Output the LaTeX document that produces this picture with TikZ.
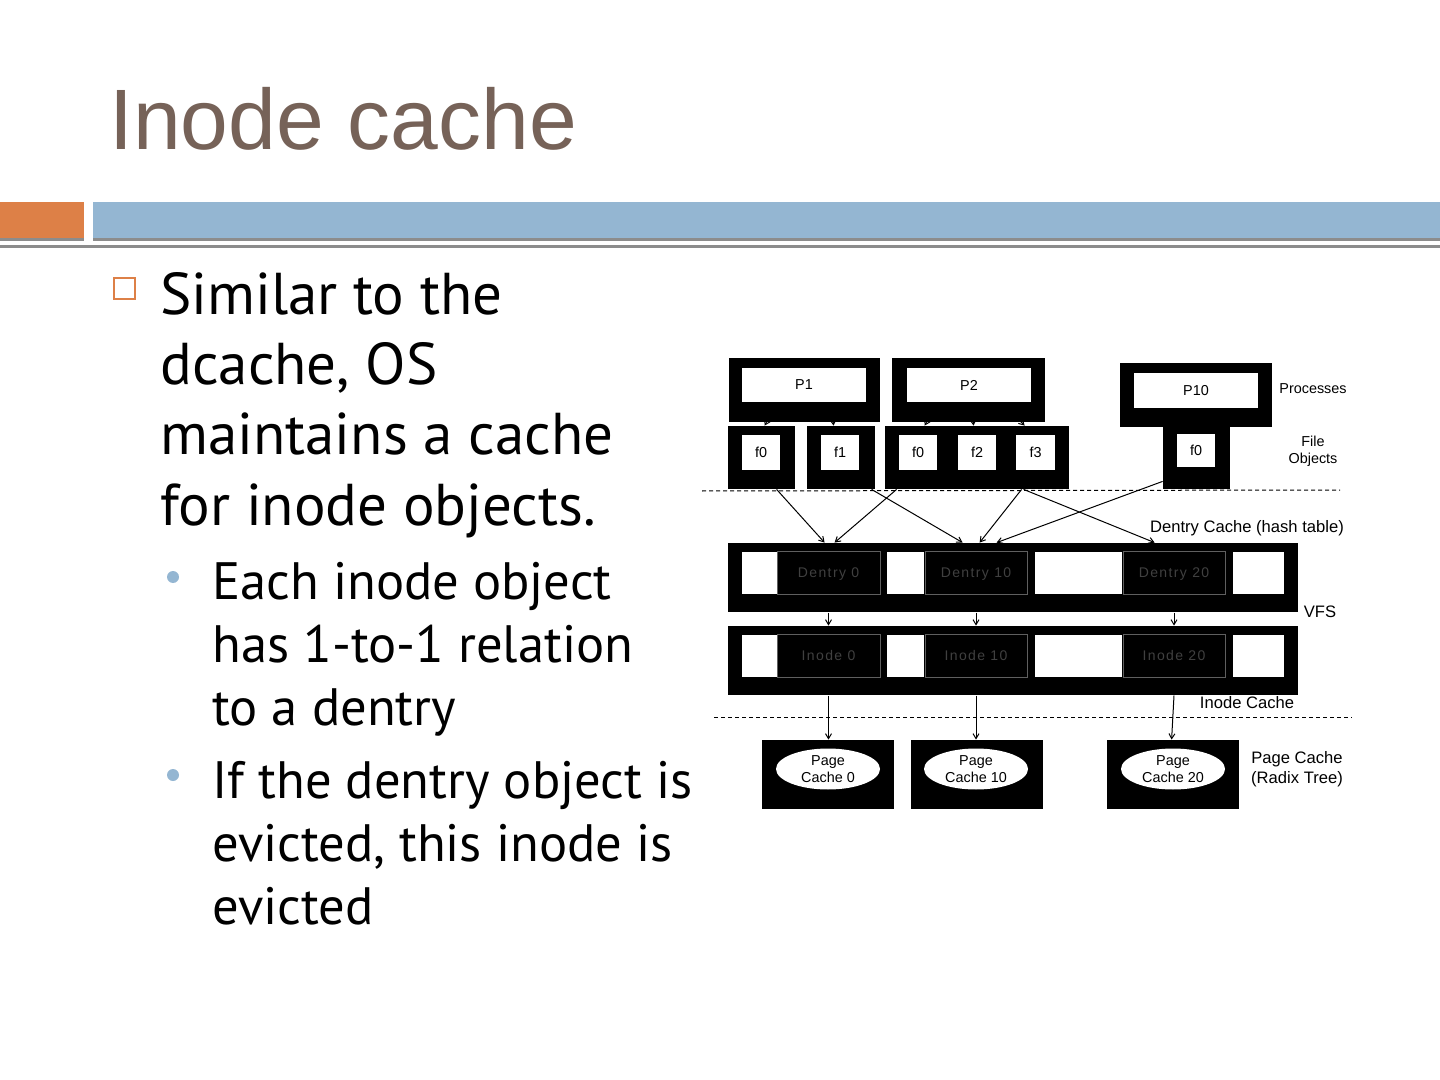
\documentclass[tikz,border=0pt]{standalone}
\usepackage{fontspec}
\setmainfont{Liberation Sans}
\newfontfamily\bodyfont{PT Sans}
\newfontfamily\dfont{Liberation Sans}[LetterSpace=10]
\usetikzlibrary{calc,arrows.meta,shapes.geometric}
\definecolor{titlebrown}{RGB}{118,98,88}
\definecolor{hdrorange}{RGB}{221,128,71}
\definecolor{hdrblue}{RGB}{148,182,210}
\definecolor{hdrgray}{RGB}{140,140,140}
\definecolor{dtext}{RGB}{64,64,64}
\definecolor{dborder}{RGB}{95,95,95}
\newcommand\rectnode[7]{\node[#6, minimum width={(#4-#2)*0.5pt}, minimum height={(#5-#3)*0.5pt}] (#1) at ({(#2+#4)/2},{(#3+#5)/2}) {#7};}
\tikzset{
  blk/.style={fill=black, draw=none, inner sep=0pt},
  wht/.style={fill=white, draw=none, inner sep=0pt, font=\fontsize{7.2}{8.6}\selectfont},
  cell/.style={fill=black, draw=dborder, line width=0.5pt, inner sep=0pt, text depth=0pt, text=dtext, font=\dfont\fontsize{7}{8}\selectfont},
  lbl/.style={font=\fontsize{7.2}{8.6}\selectfont, align=center, inner sep=0pt},
  biglbl/.style={font=\fontsize{8.3}{10}\selectfont, align=center, inner sep=0pt},
  conn/.style={line width=0.5pt, -{Straight Barb[length=2.5pt,width=3pt]}},
  sepline/.style={dash pattern=on 2pt off 1.5pt, line width=0.5pt},
  body/.style={font=\bodyfont\fontsize{29.5}{35}\selectfont, inner sep=0pt, anchor=base west},
  subbody/.style={font=\bodyfont\fontsize{26.3}{31}\selectfont, inner sep=0pt, anchor=base west},
  ovl/.style={ellipse, fill=white, draw=none, inner sep=0pt, align=center, font=\fontsize{7.2}{8.4}\selectfont}
}
\begin{document}
\begin{tikzpicture}[x=0.5pt,y=-0.5pt]
\useasboundingbox (0,0) rectangle (1440,1080);
% header
\fill[hdrorange] (0,202) rectangle (84,238);
\fill[hdrgray] (0,238) rectangle (84,241);
\fill[hdrblue] (93,202) rectangle (1440,238);
\fill[hdrgray] (93,238) rectangle (1440,241);
\fill[hdrgray] (0,245) rectangle (1440,248);
\node[anchor=base west, font=\fontsize{42.9}{50}\selectfont, text=titlebrown, inner sep=0pt] (title) at (109,150) {Inode cache};
% bullets
\node[draw=hdrorange, line width=1pt, minimum size=10.5pt, inner sep=0pt] (sq) at (124,289) {};
\fill[hdrblue] (173,577) circle (6);
\fill[hdrblue] (173,775) circle (6);
\node[body] (m1) at (160,315) {Similar to the};
\node[body] (m2) at (160,385) {dcache, OS};
\node[body] (m3) at (160,455) {maintains a cache};
\node[body] (m4) at (160,525) {for inode objects.};
\node[subbody] (s1) at (212,599) {Each inode object};
\node[subbody] (s2) at (212,662) {has 1-to-1 relation};
\node[subbody] (s3) at (212,725) {to a dentry};
\node[subbody] (s4) at (212,798) {If the dentry object is};
\node[subbody] (s5) at (212,861) {evicted, this inode is};
\node[subbody] (s6) at (212,924) {evicted};
% processes
\rectnode{P1o}{729}{358}{880}{422}{blk}{}
\rectnode{P1}{742}{368}{866}{402}{wht}{P1}
\rectnode{P2o}{892}{358}{1045}{422}{blk}{}
\rectnode{P2}{907}{368}{1031}{402}{wht}{P2}
\rectnode{P10o}{1120}{363}{1272}{427}{blk}{}
\rectnode{P10}{1134}{373}{1258}{408}{wht}{P10}
% file objects
\rectnode{fao}{728}{426}{795}{489}{blk}{}
\rectnode{fa}{742}{435}{780}{470}{wht}{f0}
\rectnode{fbo}{807}{426}{875}{489}{blk}{}
\rectnode{fb}{821}{435}{859}{470}{wht}{f1}
\rectnode{fgo}{885}{426}{1069}{489}{blk}{}
\rectnode{fc}{899}{435}{937}{470}{wht}{f0}
\rectnode{fd}{958}{435}{996}{470}{wht}{f2}
\rectnode{fe}{1016}{435}{1055}{470}{wht}{f3}
\rectnode{pfo}{1163}{426}{1230}{489}{blk}{}
\rectnode{pf}{1177}{434}{1215}{467}{wht}{f0}
% side labels
\node[lbl] (lproc) at (1313,389) {Processes};
\node[lbl] (lfile) at (1313,451) {File\\Objects};
\node[biglbl] (ldc) at (1247,528) {Dentry Cache (hash table)};
\node[biglbl] (lvfs) at (1320,612) {VFS};
\node[biglbl] (lic) at (1247,703) {Inode Cache};
\node[biglbl] (lpc) at (1297,769) {Page Cache\\(Radix Tree)};
% separators
\draw[sepline] (702,491) -- (1340,490);
\draw[sepline] (714,717) -- (1352,717);
% dentry row
\rectnode{D}{728}{543}{1298}{612}{blk}{}
\rectnode{dw1}{742}{552}{777}{594}{fill=white,inner sep=0pt}{}
\rectnode{dw2}{887}{552}{924}{594}{fill=white,inner sep=0pt}{}
\rectnode{dw3}{1035}{552}{1122}{594}{fill=white,inner sep=0pt}{}
\rectnode{dw4}{1233}{552}{1284}{594}{fill=white,inner sep=0pt}{}
\rectnode{d0}{777}{551}{880}{594}{cell}{Dentry 0}
\rectnode{d10}{925}{551}{1027}{594}{cell}{Dentry 10}
\rectnode{d20}{1123}{551}{1225}{594}{cell}{Dentry 20}
% inode row
\rectnode{I}{728}{626}{1298}{695}{blk}{}
\rectnode{iw1}{742}{635}{777}{677}{fill=white,inner sep=0pt}{}
\rectnode{iw2}{887}{635}{924}{677}{fill=white,inner sep=0pt}{}
\rectnode{iw3}{1035}{635}{1122}{677}{fill=white,inner sep=0pt}{}
\rectnode{iw4}{1233}{635}{1284}{677}{fill=white,inner sep=0pt}{}
\rectnode{i0}{777}{634}{880}{677}{cell}{Inode 0}
\rectnode{i10}{925}{634}{1027}{677}{cell}{Inode 10}
\rectnode{i20}{1123}{634}{1225}{677}{cell}{Inode 20}
% page cache
\rectnode{pg0}{762}{740}{894}{809}{blk}{}
\rectnode{pg10}{911}{740}{1043}{809}{blk}{}
\rectnode{pg20}{1107}{740}{1239}{809}{blk}{}
\node[ovl, minimum width=52pt, minimum height=20.5pt] (e0) at (828,769) {Page\\Cache 0};
\node[ovl, minimum width=52pt, minimum height=20.5pt] (e10) at (976,769) {Page\\Cache 10};
\node[ovl, minimum width=52pt, minimum height=20.5pt] (e20) at (1173,769) {Page\\Cache 20};
% process -> file arrows
\draw[conn] ($(P1o.south west)+(41,-6)$) -- ($(fao.north west)+(37,0)$);
\draw[conn] ($(P1o.south west)+(104,-6)$) -- ($(fbo.north west)+(27,0)$);
\draw[conn] ($(P2o.south west)+(38,-6)$) -- ($(fgo.north west)+(40,0)$);
\draw[conn] ($(P2o.south west)+(81,-6)$) -- ($(fgo.north west)+(89,0)$);
\draw[conn] ($(P2o.south west)+(124,-6)$) -- ($(fgo.north west)+(140,0)$);
% file -> dentry
\draw[conn] ($(fao.south west)+(49,0)$) -- ($(D.north west)+(97,0)$);
\draw[conn] ($(fgo.south west)+(12,0)$) -- ($(D.north west)+(107,0)$);
\draw[conn] ($(fbo.south west)+(65,0)$) -- ($(D.north west)+(235,0)$);
\draw[conn] ($(fgo.south west)+(137,0)$) -- ($(D.north west)+(252,0)$);
\draw[conn] ($(fgo.south west)+(139,0)$) -- ($(D.north west)+(427,0)$);
\draw[conn] ($(pfo.south west)+(0,-8)$) -- ($(D.north west)+(269,0)$);
% dentry -> inode
\draw[conn] ($(d0.south)+(0,18)$) -- (d0.south |- I.north);
\draw[conn] ($(d10.south)+(0,18)$) -- (d10.south |- I.north);
\draw[conn] ($(d20.south)+(0,18)$) -- (d20.south |- I.north);
% inode -> page
\draw[conn] ($(i0.south)+(0,18)$) -- (i0.south |- pg0.north);
\draw[conn] ($(i10.south)+(0,18)$) -- (i10.south |- pg10.north);
\draw[conn] ($(i20.south)+(0,18)$) -- ($(pg20.north west)+(65,0)$);
\end{tikzpicture}
\end{document}
